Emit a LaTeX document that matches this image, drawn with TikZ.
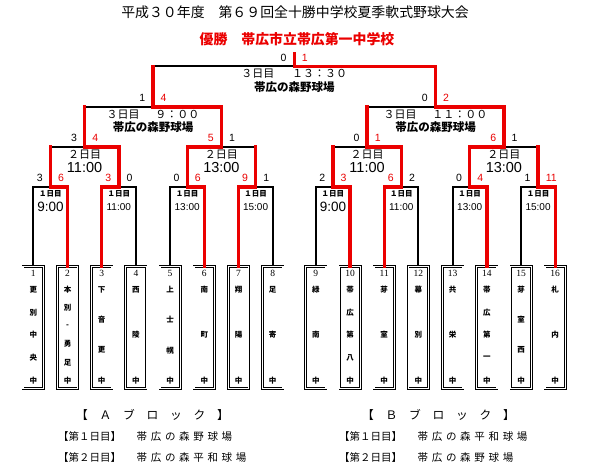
\documentclass[tikz,border=0pt]{standalone}
\usepackage{fontspec}
\setmainfont{Noto Sans CJK JP}
\newfontfamily\lsans{Liberation Sans}
\newfontfamily\lserif{Liberation Serif}
\newcommand\fsz[1]{\fontsize{#1pt}{#1pt}\selectfont}
\newcommand\spacedvenue[1]{{\addfontfeatures{LetterSpace=35}#1}}
\definecolor{winred}{RGB}{235,0,0}
\tikzset{
 blk/.style={line width=2pt, black, line join=miter},
 rd/.style={line width=3.4pt, winred, line join=miter, line cap=rect},
 teambox/.style={draw, double, double distance=1.3pt, line width=0.6pt, minimum width=20.5pt, minimum height=122pt, inner sep=0pt},
 tnum/.style={font=\lserif\fsz{9.5}, inner sep=0pt},
 tchar/.style={font=\bfseries\fsz{7.5}, inner sep=0pt},
 scL/.style={font=\lsans\fsz{10.5}, inner sep=0pt, anchor=east},
 scR/.style={font=\lsans\fsz{10.5}, inner sep=0pt, anchor=west},
 wred/.style={text=winred},
 lose/.style={text=black},
 dayS/.style={font=\bfseries\fsz{7.5}, inner sep=0pt},
 timeL/.style={font=\lsans\fsz{13.5}, inner sep=0pt},
 timeS/.style={font=\lsans\fsz{10}, inner sep=0pt},
 dayM/.style={font=\fsz{11}, inner sep=0pt},
 timeM/.style={font=\lsans\fsz{14.5}, inner sep=0pt},
 topline/.style={font=\fsz{11}, inner sep=0pt},
 venue/.style={font=\bfseries\fsz{11.5}, inner sep=0pt},
 blockhead/.style={font=\fsz{11.75}, inner sep=0pt},
 blockline/.style={font=\fsz{10.5}, inner sep=0pt, anchor=west},
}
\newcommand\teamchars[4]{\foreach \ch [count=\k] in {#4}{\node[tchar] (c#1-\k) at (#2,{289.5+(\k-1)*91/(#3-1)}) {\ch};}}
\newcommand\scores[5]{%
 \node[scL,#4] (#1-sl) at ([shift={(-7.5,-9)}]#1) {#2};
 \node[scR,#5] (#1-sr) at ([shift={(7.5,-9)}]#1) {#3};}
\begin{document}
\begin{tikzpicture}[x=1pt,y=-1pt]
\fill[white] (0,0) rectangle (613,470);
\useasboundingbox (0,0) rectangle (613,470);

% titles
\node[font=\fsz{13.9}, inner sep=0pt] (title) at (295,12) {平成３０年度　第６９回全十勝中学校夏季軟式野球大会};
\node[font=\bfseries\fsz{13.9}, text=winred, inner sep=0pt] (winner) at (297,39) {優勝　帯広市立帯広第一中学校};

% team boxes
\foreach \i/\x in {1/33.3,2/67.5,3/101.7,4/135.9,5/170.1,6/204.3,7/238.5,8/272.7,9/315.8,10/350,11/384.2,12/418.4,13/452.6,14/486.8,15/521,16/555.2}{
 \node[teambox] (t\i) at (\x,327.5) {};
 \node[tnum] (n\i) at (\x,273.5) {\i};
}
\teamchars{1}{33.3}{5}{更,別,中,央,中}
\teamchars{2}{67.5}{6}{本,別,-,勇,足,中}
\teamchars{3}{101.7}{4}{下,音,更,中}
\teamchars{4}{135.9}{3}{西,陵,中}
\teamchars{5}{170.1}{4}{上,士,幌,中}
\teamchars{6}{204.3}{3}{南,町,中}
\teamchars{7}{238.5}{3}{翔,陽,中}
\teamchars{8}{272.7}{3}{足,寄,中}
\teamchars{9}{315.8}{3}{緑,南,中}
\teamchars{10}{350}{5}{帯,広,第,八,中}
\teamchars{11}{384.2}{3}{芽,室,中}
\teamchars{12}{418.4}{3}{幕,別,中}
\teamchars{13}{452.6}{3}{共,栄,中}
\teamchars{14}{486.8}{5}{帯,広,第,一,中}
\teamchars{15}{521}{4}{芽,室,西,中}
\teamchars{16}{555.2}{3}{札,内,中}

% junction coordinates
\coordinate (m1) at (50.4,187);
\coordinate (m2) at (118.8,187);
\coordinate (m3) at (187.2,187);
\coordinate (m4) at (255.6,187);
\coordinate (m5) at (332.9,187);
\coordinate (m6) at (401.3,187);
\coordinate (m7) at (469.7,187);
\coordinate (m8) at (538.1,187);
\coordinate (r1) at (84.6,147);
\coordinate (r2) at (221.4,147);
\coordinate (r3) at (367.1,147);
\coordinate (r4) at (503.9,147);
\coordinate (s1) at (153,107);
\coordinate (s2) at (435.5,107);
\coordinate (f) at (294.25,66.5);
\coordinate (champ) at (294.25,54);

% black bracket
\draw[blk] (t1.north) |- (m1) -| (t2.north);
\draw[blk] (t3.north) |- (m2) -| (t4.north);
\draw[blk] (t5.north) |- (m3) -| (t6.north);
\draw[blk] (t7.north) |- (m4) -| (t8.north);
\draw[blk] (t9.north) |- (m5) -| (t10.north);
\draw[blk] (t11.north) |- (m6) -| (t12.north);
\draw[blk] (t13.north) |- (m7) -| (t14.north);
\draw[blk] (t15.north) |- (m8) -| (t16.north);
\draw[blk] (m1) |- (r1) -| (m2);
\draw[blk] (m3) |- (r2) -| (m4);
\draw[blk] (m5) |- (r3) -| (m6);
\draw[blk] (m7) |- (r4) -| (m8);
\draw[blk] (r1) |- (s1) -| (r2);
\draw[blk] (r3) |- (s2) -| (r4);
\draw[blk] (s1) |- (f) -| (s2);

% red winner paths
\draw[rd] (t2.north) |- (m1) -- (m1 |- r1);
\draw[rd] (t3.north) |- (m2) |- (r1) -- (r1 |- s1);
\draw[rd] (t6.north) |- (m3) |- (r2) |- (s1) -- (s1 |- f);
\draw[rd] (t7.north) |- (m4) -- (m4 |- r2);
\draw[rd] (t10.north) |- (m5) -- (m5 |- r3);
\draw[rd] (t11.north) |- (m6) |- (r3) -- (r3 |- s2);
\draw[rd] (t14.north) |- (m7) |- (r4) |- (s2) |- (f) -- (champ);
\draw[rd] (t16.north) |- (m8) -- (m8 |- r4);

% scores
\scores{m1}{3}{6}{lose}{wred}
\scores{m2}{3}{0}{wred}{lose}
\scores{m3}{0}{6}{lose}{wred}
\scores{m4}{9}{1}{wred}{lose}
\scores{m5}{2}{3}{lose}{wred}
\scores{m6}{6}{2}{wred}{lose}
\scores{m7}{0}{4}{lose}{wred}
\scores{m8}{1}{11}{lose}{wred}
\scores{r1}{3}{4}{lose}{wred}
\scores{r2}{5}{1}{wred}{lose}
\scores{r3}{0}{1}{lose}{wred}
\scores{r4}{6}{1}{wred}{lose}
\scores{s1}{1}{4}{lose}{wred}
\scores{s2}{0}{2}{lose}{wred}
\scores{f}{0}{1}{lose}{wred}

% round 1 labels
\foreach \c/\t/\s in {m1/9:00/timeL,m2/11:00/timeS,m3/13:00/timeS,m4/15:00/timeS,m5/9:00/timeL,m6/11:00/timeS,m7/13:00/timeS,m8/15:00/timeS}{
 \node[dayS] (\c-day) at ([shift={(0,7)}]\c) {１日目};
 \node[\s] (\c-time) at ([shift={(0,20)}]\c) {\t};
}
% round 2 labels
\foreach \c/\t in {r1/11:00,r2/13:00,r3/11:00,r4/13:00}{
 \node[dayM] (\c-day) at ([shift={(0,8)}]\c) {２日目};
 \node[timeM] (\c-time) at ([shift={(0,20.5)}]\c) {\t};
}
% semifinal and final labels
\node[topline] (s1-day) at ([shift={(0,7.5)}]s1) {３日目\hspace{16pt}９：００};
\node[venue] (s1-venue) at ([shift={(0,20)}]s1) {帯広の森野球場};
\node[topline] (s2-day) at ([shift={(0,7.5)}]s2) {３日目\hspace{16pt}１１：００};
\node[venue] (s2-venue) at ([shift={(0,20)}]s2) {帯広の森野球場};
\node[topline] (f-day) at ([shift={(0,7.5)}]f) {３日目\hspace{18pt}１３：３０};
\node[venue] (f-venue) at ([shift={(0,20.5)}]f) {帯広の森野球場};

% block notes
\node[blockhead] (bA) at (152.5,415) {【　Ａ　ブ　ロ　ッ　ク　】};
\node[blockhead] (bB) at (438.5,415) {【　Ｂ　ブ　ロ　ッ　ク　】};
\node[blockline] (a1) at (58,437) {【第１日目】\hspace{15.5pt}\spacedvenue{帯広の森野球場}};
\node[blockline] (a2) at (58,458) {【第２日目】\hspace{15.5pt}\spacedvenue{帯広の森平和球場}};
\node[blockline] (b1) at (339,437) {【第１日目】\hspace{15.5pt}\spacedvenue{帯広の森平和球場}};
\node[blockline] (b2) at (339,458) {【第２日目】\hspace{15.5pt}\spacedvenue{帯広の森野球場}};
\end{tikzpicture}
\end{document}
